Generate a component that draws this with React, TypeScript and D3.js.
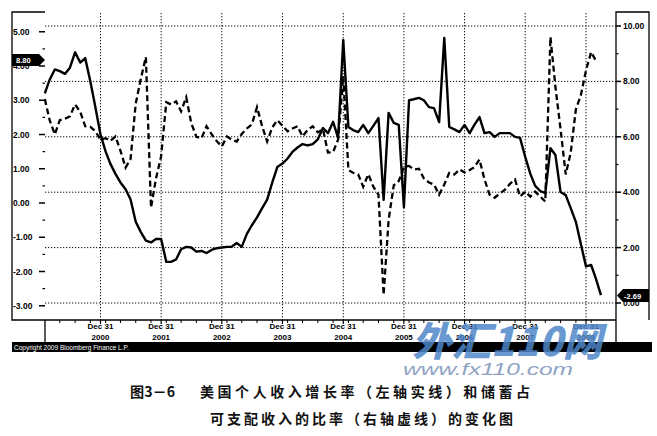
import React from "react";
import * as d3 from "d3";

// Monthly values, month-ends Jan 2000 .. Mar 2009
const incomeGrowth: number[] = [
  3.2, 3.6, 3.9, 3.85, 3.77, 3.95, 4.4, 4.1, 4.23, 3.55, 2.8, 2.0,
  1.5, 1.15, 0.85, 0.6, 0.4, 0.1, -0.55, -0.85, -1.1, -1.15, -1.05, -1.05,
  -1.72, -1.72, -1.65, -1.35, -1.28, -1.3, -1.42, -1.4, -1.46, -1.37, -1.32, -1.3,
  -1.28, -1.28, -1.17, -1.28, -0.9, -0.65, -0.42, -0.15, 0.1, 0.6, 1.05, 1.15,
  1.3, 1.49, 1.62, 1.72, 1.68, 1.72, 1.86, 2.19, 2.04, 2.37, 1.9, 4.76,
  2.22, 2.13, 2.07, 2.28, 2.04, 2.25, 2.48, 0.09, 2.63, 2.34, 2.28, -0.12,
  3.0, 3.03, 3.07, 3.0, 2.8, 2.77, 2.36, 4.82, 2.22, 2.15, 2.07, 2.28,
  2.04, 2.28, 2.51, 2.04, 2.07, 1.93, 2.04, 2.04, 2.04, 1.93, 1.9, 1.35,
  0.85, 0.5, 0.35, 0.29, 1.6, 1.4, 0.32, 0.23, -0.15, -0.55, -1.2, -1.85,
  -1.81, -2.2, -2.69,
];

const savingRate: number[] = [
  7.36, 6.6, 6.09, 6.6, 6.65, 6.74, 7.17, 6.9, 6.38, 6.36, 6.2, 5.9,
  5.95, 5.85, 6.01, 5.5, 4.89, 5.2, 7.2, 8.1, 8.88, 3.44, 4.5, 5.3,
  7.25, 7.17, 7.28, 6.92, 7.43, 6.5, 6.0, 5.95, 6.38, 6.09, 5.85, 5.65,
  6.01, 5.9, 5.83, 6.1, 6.3, 6.45, 7.07, 6.38, 5.83, 6.34, 6.6, 6.4,
  6.2, 6.3, 6.38, 6.01, 6.25, 6.38, 6.16, 6.27, 5.43, 5.45, 5.9, 8.19,
  4.8, 4.7, 4.64, 4.2, 4.65, 4.2, 3.91, 0.29, 3.0, 4.25, 4.4, 4.9,
  4.95, 4.82, 4.85, 4.5, 4.35, 4.28, 3.91, 4.28, 4.7, 4.64, 4.82, 4.71,
  4.8, 4.9, 5.18, 4.46, 3.91, 3.8, 3.95, 4.09, 4.3, 4.46, 3.84, 4.02,
  3.84, 4.02, 3.84, 3.66, 9.6, 7.8, 6.27, 4.64, 5.43, 6.99, 7.5, 8.4,
  9.06, 8.75,
];

const leftTicks: number[] = [5, 4, 3, 2, 1, 0, -1, -2, -3];
const rightTicks: number[] = [10, 8, 6, 4, 2, 0];
const yearTicks: number[] = [2000, 2001, 2002, 2003, 2004, 2005, 2006, 2007, 2008];
const leftTag = "8.80";
const rightTag = "-2.69";
const copyrightText = "Copyright 2009 Bloomberg Finance L.P.";
const captionLine1a = "图3－6";
const captionLine1b = "美国个人收入增长率（左轴实线）和储蓄占";
const captionLine2 = "可支配收入的比率（右轴虚线）的变化图";
const watermark1 = "外汇110网";
const watermark2 = "www.fx110.com";

const monthEnd = (i: number) => new Date(2000, i + 1, 0);

export default function App() {
  const W = 657, H = 436;
  const plotL = 45, plotR = 616, axisY = 320;
  const x = d3.scaleTime()
    .domain([new Date(2000, 11, 31), new Date(2008, 11, 31)])
    .range([100.5, 586]);
  const yL = d3.scaleLinear().domain([-3, 5]).range([305.75, 31.75]);
  const yR = d3.scaleLinear().domain([0, 10]).range([303, 26]);

  const solidPath = d3.line<number>()
    .x((_, i) => x(monthEnd(i)))
    .y((d) => yL(d))(incomeGrowth) || "";
  const dashPath = d3.line<number>()
    .x((_, i) => x(monthEnd(i)))
    .y((d) => yR(d))(savingRate) || "";

  const quarterTicks = d3.timeMonth
    .every(3)!
    .range(new Date(2000, 2, 1), new Date(2009, 3, 1))
    .map((d) => new Date(d.getFullYear(), d.getMonth() + 1, 0))
    .filter((d) => x(d) > plotL + 2 && x(d) < plotR - 2);

  const leftMinor = d3.range(-2.5, 5, 1);
  const rightMinor = d3.range(1, 10, 2);
  const lab = { fontFamily: "Liberation Sans, Arial, sans-serif", fontWeight: 700, fontSize: 8.5 } as const;
  const grid = { stroke: "#111", strokeWidth: 1, strokeDasharray: "1.3 1.7" };

  return (
    <svg width={W} height={H} style={{ position: "absolute", left: 0, top: 0, background: "#fff" }}>
      <rect x={0} y={0} width={W} height={H} fill="#fff" />
      {/* gridlines */}
      {rightTicks.map((t) => (
        <line key={"h" + t} x1={plotL} x2={plotR} y1={yR(t)} y2={yR(t)} {...grid} />
      ))}
      {yearTicks.map((yr) => {
        const xx = x(new Date(yr, 11, 31));
        return <line key={"v" + yr} x1={xx} x2={xx} y1={13} y2={axisY} {...grid} />;
      })}

      {/* frames */}
      <g stroke="#000" strokeWidth={1.3} fill="none">
        <path d={`M${plotL},12 H12 V${axisY} H${plotR}`} />
        <line x1={plotL} x2={plotL} y1={axisY} y2={342} />
        <path d={`M${plotR},342 V12 H649 V${axisY}`} />
      </g>

      {/* left axis */}
      {leftTicks.map((t) => (
        <g key={"l" + t}>
          <line x1={39} x2={45} y1={yL(t)} y2={yL(t)} stroke="#000" strokeWidth={1.5} />
          <text x={13} y={yL(t) + 3} {...lab}>{t.toFixed(2)}</text>
        </g>
      ))}
      {leftMinor.map((t) => (
        <line key={"lm" + t} x1={42.5} x2={45} y1={yL(t)} y2={yL(t)} stroke="#000" strokeWidth={1.2} />
      ))}

      {/* right axis */}
      {rightTicks.map((t) => (
        <g key={"r" + t}>
          <line x1={616} x2={621} y1={yR(t)} y2={yR(t)} stroke="#000" strokeWidth={1.5} />
          <text x={623} y={yR(t) + 3} {...lab}>{t.toFixed(2)}</text>
        </g>
      ))}
      {rightMinor.map((t) => (
        <line key={"rm" + t} x1={616} x2={618.5} y1={yR(t)} y2={yR(t)} stroke="#000" strokeWidth={1.2} />
      ))}

      {/* x axis */}
      {quarterTicks.map((d, i) => (
        <line key={"q" + i} x1={x(d)} x2={x(d)} y1={axisY} y2={axisY + 3} stroke="#000" strokeWidth={1} />
      ))}
      {yearTicks.map((yr) => {
        const xx = x(new Date(yr, 11, 31));
        return (
          <g key={"xl" + yr}>
            <line x1={xx} x2={xx} y1={axisY} y2={axisY + 4} stroke="#000" strokeWidth={1.2} />
            <text x={xx} y={328.5} textAnchor="middle" {...lab} fontSize={8}>Dec 31</text>
            <text x={xx} y={339.5} textAnchor="middle" {...lab} fontSize={8}>{yr}</text>
          </g>
        );
      })}

      {/* series */}
      <path d={dashPath} fill="none" stroke="#000" strokeWidth={2.3} strokeDasharray="6 3.5" />
      <path d={solidPath} fill="none" stroke="#000" strokeWidth={2.4} strokeLinejoin="round" />

      {/* value tags */}
      <path d="M12,54 H39 L45,60 L39,66 H12 Z" fill="#000" />
      <text x={16} y={63} fill="#fff" {...lab} fontSize={7.5}>{leftTag}</text>
      <path d="M649,289 H623 L617,295.5 L623,302 H649 Z" fill="#000" />
      <text x={624} y={298.5} fill="#fff" {...lab} fontSize={7.5}>{rightTag}</text>

      {/* copyright bar */}
      <rect x={12} y={342} width={640} height={10} fill="#000" />
      <text x={14} y={350} fill="#fff" fontFamily="Liberation Sans, Arial, sans-serif" fontSize={6.5}>{copyrightText}</text>

      {/* watermark */}
      <text x={412} y={356} fill="#4f86c9" fillOpacity={0.85} fontFamily="Noto Sans CJK SC, sans-serif"
        fontWeight={900} fontStyle="italic" fontSize={40} textLength={190} lengthAdjust="spacingAndGlyphs">{watermark1}</text>
      <text x={403} y={375} fill="#8fa3c4" fontFamily="Liberation Sans, Arial, sans-serif"
        fontStyle="italic" fontSize={17} textLength={170} lengthAdjust="spacingAndGlyphs">{watermark2}</text>

      {/* caption */}
      <g fontFamily="Noto Sans CJK SC, sans-serif" fontWeight={700} fill="#111" fontSize={14}>
        <text x={130} y={397} textLength={45} lengthAdjust="spacingAndGlyphs">{captionLine1a}</text>
        <text x={200} y={397} textLength={330} lengthAdjust="spacing">{captionLine1b}</text>
        <text x={210} y={424} textLength={303} lengthAdjust="spacing">{captionLine2}</text>
      </g>
    </svg>
  );
}
